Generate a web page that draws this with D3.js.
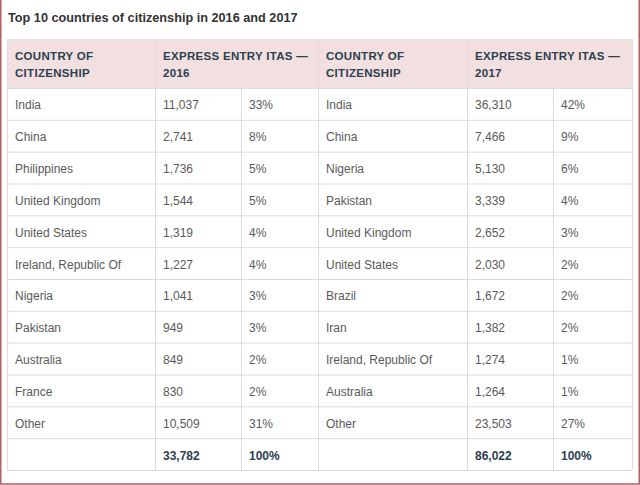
<!DOCTYPE html>
<html><head><meta charset="utf-8">
<script src="https://cdn.jsdelivr.net/npm/d3@7"></script>
<style>
html,body{margin:0;padding:0;background:#fff;}
svg{display:block;font-family:"Liberation Sans",Arial,sans-serif;}
</style></head>
<body><svg id="c" width="640" height="485"></svg>
<script>
const title = "Top 10 countries of citizenship in 2016 and 2017";
const headerCountry = ["COUNTRY OF", "CITIZENSHIP"];
const header2016 = ["EXPRESS ENTRY ITAS \u2014", "2016"];
const header2017 = ["EXPRESS ENTRY ITAS \u2014", "2017"];
const countries2016 = ["India","China","Philippines","United Kingdom","United States","Ireland, Republic Of","Nigeria","Pakistan","Australia","France","Other"];
const values2016 = [11037,2741,1736,1544,1319,1227,1041,949,849,830,10509];
const pct2016 = [33,8,5,5,4,4,3,3,2,2,31];
const countries2017 = ["India","China","Nigeria","Pakistan","United Kingdom","United States","Brazil","Iran","Ireland, Republic Of","Australia","Other"];
const values2017 = [36310,7466,5130,3339,2652,2030,1672,1382,1274,1264,23503];
const pct2017 = [42,9,6,4,3,2,2,2,1,1,27];
const totals = [33782, 86022];
const totalPct = [100, 100];

const svg = d3.select("#c");
const fmt = d3.format(",");

// frame
svg.append("rect").attr("x",0.75).attr("y",-2).attr("width",638.5).attr("height",486)
  .attr("fill","#fff").attr("stroke","#b06060").attr("stroke-width",1.5);

svg.append("text").attr("x",8).attr("y",22).attr("fill","#333")
  .attr("font-size",12.7).attr("font-weight","bold").text(title);

const tableLeft = 7, tableRight = 632;
const headTop = 39, headBottom = 88, tableBottom = 470;
const nRows = countries2016.length + 1;

const rowScale = d3.scaleBand().domain(d3.range(nRows)).range([headBottom, tableBottom]);
const colKeys = ["c16","v16","p16","c17","v17","p17","end"];
const colScale = d3.scaleOrdinal().domain(colKeys).range([tableLeft,155,241,318,467,553,tableRight]);

// header background
svg.append("rect").attr("x",tableLeft).attr("y",headTop).attr("width",tableRight-tableLeft)
  .attr("height",headBottom-headTop).attr("fill","#f2dfdf");

const g = svg.append("g");
d3.range(nRows+1).forEach(i=>{
  const y = i<nRows ? rowScale(i) : tableBottom;
  g.append("line").attr("x1",tableLeft).attr("x2",tableRight).attr("y1",y+0.5).attr("y2",y+0.5)
    .attr("stroke","#dcdcdc");
});
g.append("line").attr("x1",tableLeft).attr("x2",tableRight).attr("y1",headTop+0.5).attr("y2",headTop+0.5).attr("stroke","#ece0e0");
colKeys.forEach(k=>{
  const x = colScale(k)+0.5;
  g.append("line").attr("x1",x).attr("x2",x).attr("y1",headBottom).attr("y2",tableBottom).attr("stroke","#dcdcdc");
});
["c16","v16","c17","v17","end"].forEach(k=>{
  const x = colScale(k)+0.5;
  g.append("line").attr("x1",x).attr("x2",x).attr("y1",headTop).attr("y2",headBottom).attr("stroke","#e9d8d8");
});

const hdrColor = "#2c3e50";
function hdr(lines, k){
  lines.forEach((t,i)=>{
    svg.append("text").attr("x",colScale(k)+8).attr("y",60+i*17)
      .attr("font-size",11.5).attr("font-weight","bold").attr("fill",hdrColor)
      .attr("letter-spacing",0.3).text(t);
  });
}
hdr(headerCountry,"c16"); hdr(header2016,"v16"); hdr(headerCountry,"c17"); hdr(header2017,"v17");

const bodyColor = "#5a5a5a";
function cell(text,k,i,bold){
  svg.append("text").attr("x",colScale(k)+8).attr("y",rowScale(i)+rowScale.bandwidth()/2+5.5)
    .attr("font-size",12).attr("fill",bold?hdrColor:bodyColor)
    .attr("font-weight",bold?"bold":"normal").text(text);
}
countries2016.forEach((c,i)=>{
  cell(c,"c16",i); cell(fmt(values2016[i]),"v16",i); cell(pct2016[i]+"%","p16",i);
  cell(countries2017[i],"c17",i); cell(fmt(values2017[i]),"v17",i); cell(pct2017[i]+"%","p17",i);
});
const last = nRows-1;
cell(fmt(totals[0]),"v16",last,true); cell(totalPct[0]+"%","p16",last,true);
cell(fmt(totals[1]),"v17",last,true); cell(totalPct[1]+"%","p17",last,true);
</script></body></html>
